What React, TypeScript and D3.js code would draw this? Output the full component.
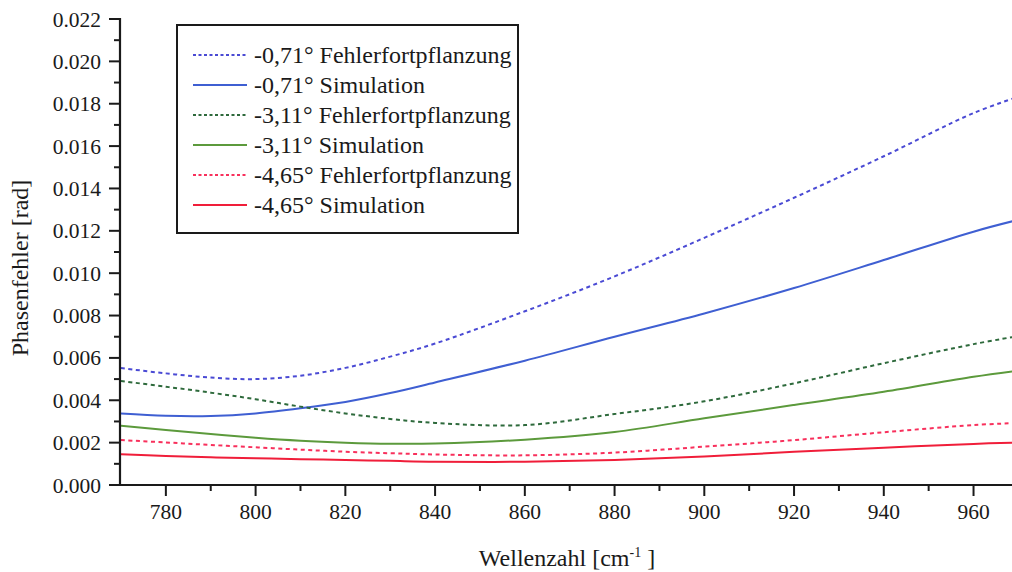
import React from "react";
import * as d3 from "d3";

const wavenumbers = [770, 780, 790, 800, 810, 820, 830, 840, 860, 880, 900, 920, 940, 960, 970];
const blueProp = [0.00552, 0.00527, 0.00507, 0.005, 0.00516, 0.00553, 0.00606, 0.00668, 0.0082, 0.00985, 0.01167, 0.01356, 0.01552, 0.01756, 0.01833];
const blueSim = [0.00338, 0.00327, 0.00326, 0.00338, 0.00362, 0.00392, 0.00434, 0.00484, 0.00587, 0.007, 0.0081, 0.0093, 0.01062, 0.01196, 0.01252];
const greenProp = [0.00491, 0.00464, 0.00436, 0.00405, 0.0037, 0.00338, 0.00312, 0.00293, 0.00283, 0.00335, 0.00395, 0.0048, 0.00575, 0.00665, 0.00703];
const greenSim = [0.0028, 0.0026, 0.00241, 0.00223, 0.00209, 0.002, 0.00195, 0.00196, 0.00214, 0.0025, 0.00315, 0.00378, 0.0044, 0.00511, 0.0054];
const redProp = [0.00212, 0.00201, 0.00189, 0.00178, 0.00167, 0.00157, 0.0015, 0.00144, 0.0014, 0.00153, 0.00181, 0.00212, 0.00249, 0.00283, 0.00293];
const redSim = [0.00145, 0.00137, 0.00131, 0.00126, 0.00122, 0.00118, 0.00114, 0.0011, 0.0011, 0.00118, 0.00134, 0.00157, 0.00176, 0.00194, 0.00201];

const seriesLabels = [
  "-0,71° Fehlerfortpflanzung",
  "-0,71° Simulation",
  "-3,11° Fehlerfortpflanzung",
  "-3,11° Simulation",
  "-4,65° Fehlerfortpflanzung",
  "-4,65° Simulation",
];
const seriesValues = [blueProp, blueSim, greenProp, greenSim, redProp, redSim];
const seriesColors = ["#4a4ad4", "#3f5fd2", "#2e6a3c", "#5c9a3c", "#f8305c", "#f01e3a"];
const seriesDashed = [true, false, true, false, true, false];

const xMajorTicks = [780, 800, 820, 840, 860, 880, 900, 920, 940, 960];
const xMinorTicks = [790, 810, 830, 850, 870, 890, 910, 930, 950];
const yMajorTicks = [0, 0.002, 0.004, 0.006, 0.008, 0.01, 0.012, 0.014, 0.016, 0.018, 0.02, 0.022];
const yMinorTicks = [0.001, 0.003, 0.005, 0.007, 0.009, 0.011, 0.013, 0.015, 0.017, 0.019, 0.021];

const FONT = "Liberation Serif, DejaVu Serif, Times New Roman, serif";

export default function App() {
  const W = 1012;
  const H = 572;
  const x = d3.scaleLinear().domain([770, 970]).range([121, 1018.4]);
  const y = d3.scaleLinear().domain([0, 0.022]).range([485, 19]);
  const line = d3
    .line<[number, number]>()
    .x((d) => x(d[0]))
    .y((d) => y(d[1]))
    .curve(d3.curveCatmullRom.alpha(0.5));

  const axisColor = "#1a1a1a";
  const legX = 177;
  const legY = 25;
  const legW = 341;
  const legH = 208;

  return (
    <svg
      width={W}
      height={H}
      style={{ position: "absolute", left: 0, top: 0, background: "#fff", fontFamily: FONT }}
    >
      <defs>
        <clipPath id="plot">
          <rect x={121} y={10} width={W - 121} height={476} />
        </clipPath>
      </defs>
      <rect x={0} y={0} width={W} height={H} fill="#fff" />

      <g clipPath="url(#plot)">
        {seriesValues.map((vals, i) => (
          <path
            key={i}
            d={line(wavenumbers.map((w, j) => [w, vals[j]] as [number, number])) || ""}
            fill="none"
            stroke={seriesColors[i]}
            strokeWidth={2}
            strokeDasharray={seriesDashed[i] ? "4,3.5" : undefined}
          />
        ))}
      </g>

      {/* axes */}
      <line x1={120} x2={120} y1={18} y2={486} stroke={axisColor} strokeWidth={2.2} />
      <line x1={119} x2={W} y1={485} y2={485} stroke={axisColor} strokeWidth={2.2} />
      {yMajorTicks.map((t) => (
        <g key={"ym" + t}>
          <line x1={109} x2={120} y1={y(t)} y2={y(t)} stroke={axisColor} strokeWidth={2} />
          <text
            x={101}
            y={y(t)}
            dy="0.35em"
            textAnchor="end"
            style={{ fontFamily: FONT }}
            fontSize={21.5}
            fill="#1a1a1a"
          >
            {t.toFixed(3)}
          </text>
        </g>
      ))}
      {yMinorTicks.map((t) => (
        <line key={"yn" + t} x1={114} x2={120} y1={y(t)} y2={y(t)} stroke={axisColor} strokeWidth={2} />
      ))}
      {xMajorTicks.map((t) => (
        <g key={"xm" + t}>
          <line x1={x(t)} x2={x(t)} y1={485} y2={496} stroke={axisColor} strokeWidth={2} />
          <text
            x={x(t)}
            y={519}
            textAnchor="middle"
            style={{ fontFamily: FONT }}
            fontSize={21.5}
            fill="#1a1a1a"
          >
            {t}
          </text>
        </g>
      ))}
      {xMinorTicks.map((t) => (
        <line key={"xn" + t} x1={x(t)} x2={x(t)} y1={485} y2={491} stroke={axisColor} strokeWidth={2} />
      ))}

      {/* axis titles */}
      <text
        transform="translate(28,268) rotate(-90)"
        textAnchor="middle"
        style={{ fontFamily: FONT }}
        fontSize={24}
        fill="#1a1a1a"
      >
        Phasenfehler [rad]
      </text>
      <text x={567} y={566} textAnchor="middle" style={{ fontFamily: FONT }} fontSize={24} fill="#1a1a1a">
        Wellenzahl [cm
        <tspan dy={-9} fontSize={14}>-1</tspan>
        <tspan dy={9}> ]</tspan>
      </text>

      {/* legend */}
      <rect x={legX} y={legY} width={legW} height={legH} fill="#fff" stroke="#1a1a1a" strokeWidth={2} />
      {seriesLabels.map((lab, i) => {
        const ly = 55 + i * 30;
        return (
          <g key={lab}>
            <line
              x1={193}
              x2={247}
              y1={ly}
              y2={ly}
              stroke={seriesColors[i]}
              strokeWidth={1.8}
              strokeDasharray={seriesDashed[i] ? "3,2.5" : undefined}
            />
            <text x={254} y={ly} dy="0.33em" style={{ fontFamily: FONT }} fontSize={24} fill="#1a1a1a">
              {lab}
            </text>
          </g>
        );
      })}
    </svg>
  );
}
